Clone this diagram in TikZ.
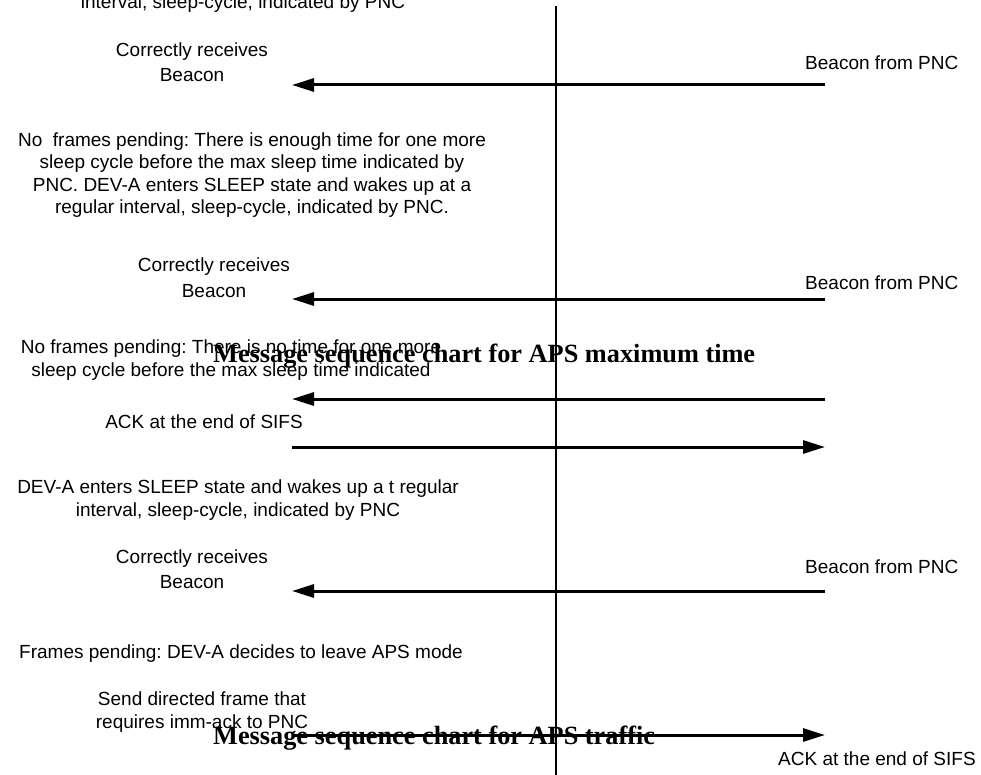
\documentclass[tikz,border=0pt]{standalone}
\usepackage{fontspec}
\setmainfont{Liberation Sans}
\newfontfamily\titlefont{Liberation Serif}
\frenchspacing
\usetikzlibrary{arrows.meta}
\tikzset{
  lbl/.style={inner sep=0pt, font=\fontsize{19}{22.5}\selectfont, align=center, anchor=base},
  rcv/.style={lbl, font=\fontsize{19}{25}\selectfont},
  ttl/.style={inner sep=0pt, anchor=base west, font=\titlefont\bfseries\fontsize{26.3}{30}\selectfont},
  msg/.style={line width=3pt, -{Triangle[length=22pt,width=13pt]}}
}
\begin{document}
\begin{tikzpicture}[x=1pt,y=-1pt]
\useasboundingbox (0,0) rectangle (981,775);
% Define the x positions of DEV-A and PNC
\def\dev{292}
\def\pnc{825}

% Middle line
\coordinate (top) at (556,6);
\coordinate (bot) at (556,775);
\draw[line width=2.5pt] (top) -- (bot);

% Wake up and receive beacon
\node[lbl] (wake1) at (243,9) {interval, sleep-cycle, indicated by PNC};
\node[rcv] (rx1) at (192,82) {Correctly receives\\Beacon};
\node[lbl, anchor=base west] (bcn1) at (805,70) {Beacon from PNC};
\coordinate (pnc1) at (\pnc,85);
\coordinate (dev1) at (\dev,85);
\draw[msg] (pnc1) -- (dev1);

% Enough time for one more sleep cycle
\node[lbl] (sleep1) at (252,214) {No\ \ frames pending: There is enough time for one more\\sleep cycle before the max sleep time indicated by\\PNC. DEV-A enters SLEEP state and wakes up at a\\regular interval, sleep-cycle, indicated by PNC.};
\node[rcv] (rx2) at (214,297) {Correctly receives\\Beacon};
\node[lbl, anchor=base west] (bcn2) at (805,290) {Beacon from PNC};
\coordinate (pnc2) at (\pnc,299);
\coordinate (dev2) at (\dev,299);
\draw[msg] (pnc2) -- (dev2);

% No time left: poll and ACK
\node[lbl] (notime) at (231,376) {No frames pending: There is no time for one more\\sleep cycle before the max sleep time indicated};
\node[ttl] (title1) at (213,362) {Message sequence chart for APS maximum time};
\coordinate (pnc3) at (\pnc,399);
\coordinate (dev3) at (\dev,399);
\draw[msg] (pnc3) -- (dev3);
\node[lbl] (ack1) at (204,428) {ACK at the end of SIFS};
\coordinate (dev4) at (\dev,447);
\coordinate (pnc4) at (\pnc,447);
\draw[msg] (dev4) -- (pnc4);

% Sleep again and receive beacon
\node[lbl] (wake2) at (238,516) {DEV-A enters SLEEP state and wakes up a t regular\\interval, sleep-cycle, indicated by PNC};
\node[rcv] (rx3) at (192,588) {Correctly receives\\Beacon};
\node[lbl, anchor=base west] (bcn3) at (805,573) {Beacon from PNC};
\coordinate (pnc5) at (\pnc,591);
\coordinate (dev5) at (\dev,591);
\draw[msg] (pnc5) -- (dev5);

% Frames pending: leave APS mode
\node[lbl, anchor=base west] (leave) at (19,658) {Frames pending: DEV-A decides to leave APS mode};
\node[lbl] (send) at (202,728) {Send directed frame that\\requires imm-ack to PNC};
\coordinate (dev6) at (\dev,735);
\coordinate (pnc6) at (\pnc,735);
\draw[msg] (dev6) -- (pnc6);
\node[ttl] (title2) at (213,744) {Message sequence chart for APS traffic};
\node[lbl, anchor=base west] (ack2) at (778,765) {ACK at the end of SIFS};
\end{tikzpicture}
\end{document}
